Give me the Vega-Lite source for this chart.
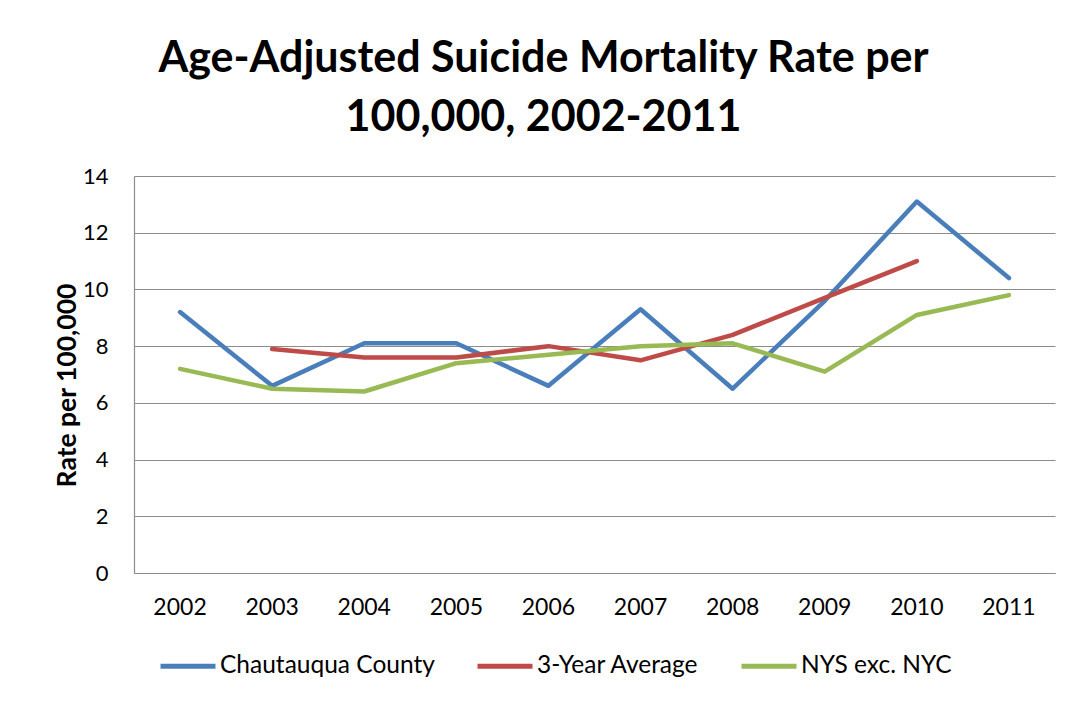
{
  "$schema": "https://vega.github.io/schema/vega-lite/v6.json",
  "autosize": {"type": "none"},
  "padding": {"left": 134, "top": 176, "right": 18, "bottom": 129},
  "width": 921,
  "height": 397,
  "background": "white",
  "title": {
    "text": ["Age-Adjusted Suicide Mortality Rate per", "100,000, 2002-2011"],
    "anchor": "middle",
    "frame": "group",
    "dx": -51,
    "dy": 57,
    "offset": 48,
    "baseline": "alphabetic",
    "lineHeight": 59,
    "font": "Lato",
    "fontSize": 43,
    "fontWeight": "bold",
    "color": "#000000"
  },
  "data": {
    "values": [
      {"Year": "2002", "Series": "Chautauqua County", "Rate": 9.2},
      {"Year": "2003", "Series": "Chautauqua County", "Rate": 6.6},
      {"Year": "2004", "Series": "Chautauqua County", "Rate": 8.1},
      {"Year": "2005", "Series": "Chautauqua County", "Rate": 8.1},
      {"Year": "2006", "Series": "Chautauqua County", "Rate": 6.6},
      {"Year": "2007", "Series": "Chautauqua County", "Rate": 9.3},
      {"Year": "2008", "Series": "Chautauqua County", "Rate": 6.5},
      {"Year": "2009", "Series": "Chautauqua County", "Rate": 9.6},
      {"Year": "2010", "Series": "Chautauqua County", "Rate": 13.1},
      {"Year": "2011", "Series": "Chautauqua County", "Rate": 10.4},
      {"Year": "2003", "Series": "3-Year Average", "Rate": 7.9},
      {"Year": "2004", "Series": "3-Year Average", "Rate": 7.6},
      {"Year": "2005", "Series": "3-Year Average", "Rate": 7.6},
      {"Year": "2006", "Series": "3-Year Average", "Rate": 8.0},
      {"Year": "2007", "Series": "3-Year Average", "Rate": 7.5},
      {"Year": "2008", "Series": "3-Year Average", "Rate": 8.4},
      {"Year": "2009", "Series": "3-Year Average", "Rate": 9.7},
      {"Year": "2010", "Series": "3-Year Average", "Rate": 11.0},
      {"Year": "2002", "Series": "NYS exc. NYC", "Rate": 7.2},
      {"Year": "2003", "Series": "NYS exc. NYC", "Rate": 6.5},
      {"Year": "2004", "Series": "NYS exc. NYC", "Rate": 6.4},
      {"Year": "2005", "Series": "NYS exc. NYC", "Rate": 7.4},
      {"Year": "2006", "Series": "NYS exc. NYC", "Rate": 7.7},
      {"Year": "2007", "Series": "NYS exc. NYC", "Rate": 8.0},
      {"Year": "2008", "Series": "NYS exc. NYC", "Rate": 8.1},
      {"Year": "2009", "Series": "NYS exc. NYC", "Rate": 7.1},
      {"Year": "2010", "Series": "NYS exc. NYC", "Rate": 9.1},
      {"Year": "2011", "Series": "NYS exc. NYC", "Rate": 9.8}
    ]
  },
  "mark": {"type": "line", "strokeWidth": 4.5, "strokeCap": "round", "strokeJoin": "round"},
  "encoding": {
    "x": {
      "field": "Year",
      "type": "ordinal",
      "scale": {"type": "band", "paddingInner": 0, "paddingOuter": 0},
      "axis": {
        "title": null,
        "labelAngle": 0,
        "labelFont": "Lato",
        "labelFontSize": 23,
        "labelColor": "#000000",
        "labelPadding": 23,
        "ticks": false,
        "grid": false,
        "domainColor": "#8c8c8c",
        "domainWidth": 1.2
      }
    },
    "y": {
      "field": "Rate",
      "type": "quantitative",
      "scale": {"domain": [0, 14], "nice": false},
      "axis": {
        "title": "Rate per 100,000",
        "titleFont": "Lato",
        "titleFontSize": 26.5,
        "titleFontWeight": "bold",
        "titleColor": "#000000",
        "titleAngle": -90,
        "titleX": -59,
        "titleY": 209,
        "titleAlign": "center",
        "titleBaseline": "alphabetic",
        "values": [0, 2, 4, 6, 8, 10, 12, 14],
        "labelFont": "Lato",
        "labelFontSize": 22,
        "labelColor": "#000000",
        "labelPadding": 26,
        "ticks": false,
        "grid": true,
        "gridColor": "#8c8c8c",
        "gridWidth": 1.2,
        "domainColor": "#8c8c8c",
        "domainWidth": 1.2
      }
    },
    "color": {
      "field": "Series",
      "type": "nominal",
      "scale": {
        "domain": ["Chautauqua County", "3-Year Average", "NYS exc. NYC"],
        "range": ["#4A7EBB", "#BE4B48", "#98B954"]
      },
      "legend": {
        "title": null,
        "orient": "none",
        "direction": "horizontal",
        "legendX": 24,
        "legendY": 460,
        "symbolType": "stroke",
        "symbolSize": 3025,
        "symbolStrokeWidth": 5,
        "labelFont": "Lato",
        "labelFontSize": 24.5,
        "labelColor": "#000000",
        "labelOffset": 2,
        "columnPadding": 32,
        "labelLimit": 400
      }
    }
  },
  "config": {
    "view": {"stroke": null}
  }
}
